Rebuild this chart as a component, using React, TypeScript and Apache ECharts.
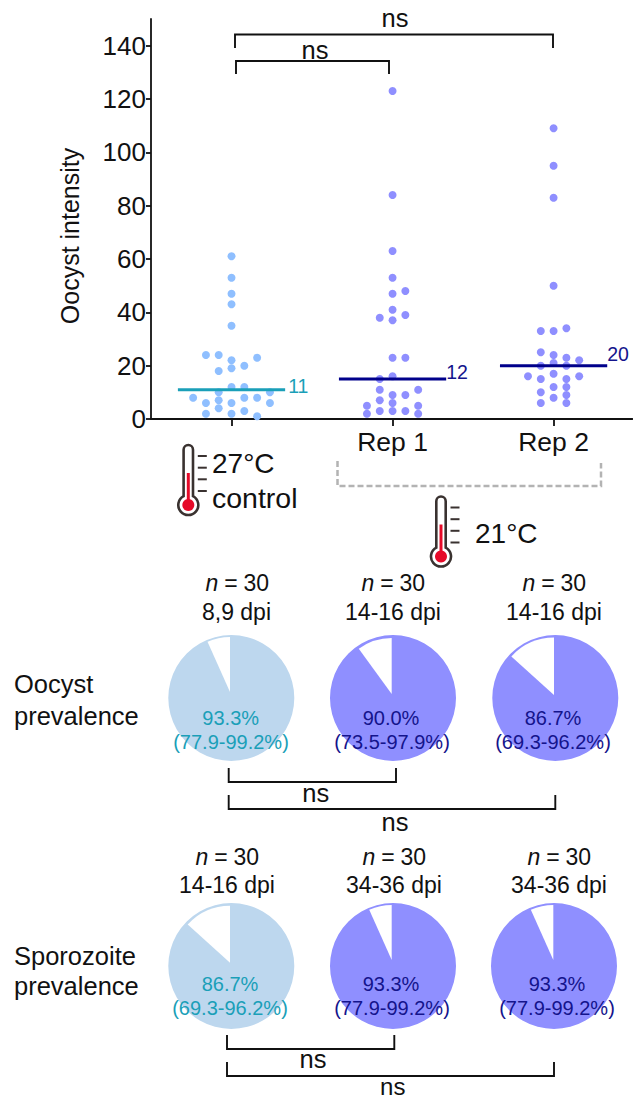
import React, { useEffect, useRef } from "react";
import * as echarts from "echarts";

const FONT = '"Liberation Sans", Arial, sans-serif';

// Oocyst intensity per mosquito: value + swarm column (-3..3) around the group's centre
const controlValues = [61, 53, 47, 43, 35, 22, 19, 12, 6, 2, 24, 6, 2, 24, 18, 10, 7, 4, 20, 12, 8, 3, 23, 8, 1, 8, 10, 6];
const controlColumns = [0, 0, 0, 0, 0, 0, 0, 0, 0, 0, -2, -2, -2, -1, -1, -1, -1, -1, 1, 1, 1, 1, 2, 2, 2, -3, 3, 3];
const rep1Values = [123, 84, 63, 53, 47, 41, 37, 23, 16, 9, 6, 3, 48, 39, 23, 9, 3, 38, 15, 11, 7, 3, 11, 5, 2, 5, 2];
const rep1Columns = [0, 0, 0, 0, 0, 0, 0, 0, 0, 0, 0, 0, 1, 1, 1, 1, 1, -1, -1, -1, -1, -1, 2, 2, 2, -2, -2];
const rep2Values = [109, 95, 83, 50, 33, 24, 21, 17, 12, 8, 33, 25, 20, 15, 10, 6, 34, 23, 20, 15, 12, 9, 6, 22, 16, 16];
const rep2Columns = [0, 0, 0, 0, 0, 0, 0, 0, 0, 0, -1, -1, -1, -1, -1, -1, 1, 1, 1, 1, 1, 1, 1, 2, 2, -2];

const groupPositions = [1, 2, 3];
const tickLabels = ["", "Rep 1", "Rep 2"];
const medians = [11, 15, 20];
const medianLabels = ["11", "12", "20"];

const oocystPrevalence = [93.3, 90.0, 86.7];
const oocystCI = ["(77.9-99.2%)", "(73.5-97.9%)", "(69.3-96.2%)"];
const oocystDpi = ["8,9 dpi", "14-16 dpi", "14-16 dpi"];
const sporozoitePrevalence = [86.7, 93.3, 93.3];
const sporozoiteCI = ["(69.3-96.2%)", "(77.9-99.2%)", "(77.9-99.2%)"];
const sporozoiteDpi = ["14-16 dpi", "34-36 dpi", "34-36 dpi"];

const LIGHT_DOT = "#8fbfff";
const PURPLE = "#8f8fff";
const LIGHT_PIE = "#bdd7ee";
const TEAL = "#1a9fb8";
const NAVY = "#14148c";
const NAVY_LINE = "#00008b";
const COL_STEP = 0.0795;

echarts.graphic.registerShape(
  "thermo",
  echarts.graphic.extendPath("M-4.7 4.7 A4.7 4.7 0 0 1 4.7 4.7 L4.7 51.2 A10 10 0 1 1 -4.7 51.2 Z", {})
);

const text = (t: string, x: number, y: number, size: number, opts: any = {}) => ({
  type: "text",
  z: 20,
  x,
  y,
  rotation: opts.rotation || 0,
  style: {
    text: t,
    fontFamily: FONT,
    fontSize: size,
    fill: opts.fill || "#111",
    fontStyle: opts.italic ? "italic" : "normal",
    align: opts.align || "center",
    verticalAlign: "middle",
  },
});

// "n = 30" with an italic n, spaced as a word-processor would
const nLabel = (x: number, y: number) => [
  text("n", x - 31.5, y, 23, { italic: true, align: "left" }),
  text("=", x - 6, y, 23),
  text("30", x + 32, y, 23, { align: "right" }),
];

const bracket = (pts: number[][]) => ({
  type: "polyline",
  z: 20,
  shape: { points: pts },
  style: { stroke: "#111", lineWidth: 1.9, fill: "none" },
});

const thermometer = (x: number, y: number) => [
  { type: "thermo", z: 20, x, y, style: { stroke: "#3a3230", lineWidth: 2.6, fill: "none" } },
  { type: "rect", z: 20, shape: { x: x - 1.5, y: y + 28, width: 3, height: 28 }, style: { fill: "#e60a28" } },
  { type: "circle", z: 20, shape: { cx: x, cy: y + 60, r: 6 }, style: { fill: "#e60a28" } },
  ...[11, 22.7, 34.3, 46].map((d) => ({
    type: "line",
    z: 20,
    shape: { x1: x + 9.5, y1: y + d, x2: x + 18.5, y2: y + d },
    style: { stroke: "#3a3230", lineWidth: 2 },
  })),
];

const swarm = (name: string, values: number[], cols: number[], group: number, color: string) => ({
  name,
  type: "scatter",
  symbol: "circle",
  symbolSize: 8,
  silent: true,
  z: 3,
  itemStyle: { color, opacity: 1 },
  data: values.map((v, i) => [group + cols[i] * COL_STEP, v]),
});

const medianLine = (i: number, color: string, dist: number, off: number) => ({
  type: "line",
  symbol: "none",
  silent: true,
  z: 5,
  lineStyle: { color, width: 3 },
  endLabel: {
    show: true,
    distance: dist,
    offset: [0, off],
    formatter: medianLabels[i],
    fontFamily: FONT,
    fontSize: 19.5,
    color: i === 0 ? TEAL : NAVY,
  },
  data: [
    [groupPositions[i] - 0.333, medians[i]],
    [groupPositions[i] + 0.333, medians[i]],
  ],
});

const pie = (value: number, cx: number, cy: number, color: string, ax: number, ay: number, r: number) => [
  {
    type: "pie",
    silent: true,
    animation: false,
    center: [cx, cy],
    radius: [0, 63],
    label: { show: false },
    labelLine: { show: false },
    data: [{ value: 100, itemStyle: { color } }],
  },
  {
    type: "pie",
    silent: true,
    animation: false,
    center: [ax, ay],
    radius: [0, r],
    startAngle: 90,
    clockwise: true,
    label: { show: false },
    labelLine: { show: false },
    data: [
      { value, itemStyle: { color: "rgba(0,0,0,0)" } },
      { value: 100 - value, itemStyle: { color: "#fff" } },
    ],
  },
];

const pieCentersX = [231.3, 393, 555.3];
const pieColors = [LIGHT_PIE, PURPLE, PURPLE];
const textColors = [TEAL, NAVY, NAVY];
const topCiX = [231, 392, 553];
const topPctX = [230.7, 391, 553];
const bottomCiX = [230, 392, 557];
const bottomPctX = [230, 391, 557];
const topApex = [[230, 692, 55], [391.7, 694, 56], [554, 695, 57.5]];
const bottomApex = [[230, 962.7, 57], [391.7, 960, 55], [553.3, 960, 55]];

export default function App() {
  const ref = useRef<HTMLDivElement>(null);
  useEffect(() => {
    const chart = echarts.init(ref.current!, undefined, { renderer: "svg", width: 633, height: 1099 });
    const graphics: any[] = [
      text("Oocyst intensity", 70, 236, 25, { rotation: Math.PI / 2 }),
      // significance brackets, upper panel
      bracket([[235, 48], [235, 34.5], [553, 34.5], [553, 48]]),
      bracket([[236, 74], [236, 61], [389, 61], [389, 74]]),
      text("ns", 395, 18, 25.5),
      text("ns", 315, 50, 25.5),
      // temperature annotations
      ...thermometer(188.3, 445),
      ...thermometer(441, 496.5),
      text("27°C", 212, 463, 28, { align: "left" }),
      text("control", 212, 498, 28.5, { align: "left" }),
      text("21°C", 475, 533, 28, { align: "left" }),
      {
        type: "polyline",
        z: 20,
        shape: { points: [[337.5, 461], [337.5, 486], [601, 486], [601, 463]] },
        style: { stroke: "#b3b3b3", lineWidth: 2.5, lineDash: [6, 3], fill: "none" },
      },
      // row labels
      text("Oocyst", 14, 684, 25.5, { align: "left" }),
      text("prevalence", 14, 716, 25.5, { align: "left" }),
      text("Sporozoite", 14, 956, 25.5, { align: "left" }),
      text("prevalence", 14, 986, 25.5, { align: "left" }),
      // lower-panel brackets
      bracket([[228.7, 768], [228.7, 782], [396, 782], [396, 768]]),
      bracket([[228.7, 795], [228.7, 809], [555.3, 809], [555.3, 795]]),
      text("ns", 315.7, 793, 25.5),
      text("ns", 395, 822, 25.5),
      bracket([[227, 1035], [227, 1049], [394.3, 1049], [394.3, 1035]]),
      bracket([[227, 1062], [227, 1076], [554, 1076], [554, 1062]]),
      text("ns", 313, 1059, 25.5),
      text("ns", 392.7, 1086, 24),
    ];
    [237, 393, 554].forEach((x, i) => {
      graphics.push(...nLabel(x, 583));
      graphics.push(text(oocystDpi[i], i === 0 ? 236.5 : x, 611.5, 23));
      graphics.push(text(oocystPrevalence[i].toFixed(1) + "%", topPctX[i], 717.5, 20, { fill: textColors[i] }));
      graphics.push(text(oocystCI[i], topCiX[i], 742, 20, { fill: textColors[i] }));
    });
    [227, 394, 559].forEach((x, i) => {
      graphics.push(...nLabel(x, 857));
      graphics.push(text(sporozoiteDpi[i], x, 885, 23));
      graphics.push(text(sporozoitePrevalence[i].toFixed(1) + "%", bottomPctX[i], 984, 20, { fill: textColors[i] }));
      graphics.push(text(sporozoiteCI[i], bottomCiX[i], 1008, 20, { fill: textColors[i] }));
    });

    chart.setOption({
      animation: false,
      grid: { left: 151, top: 19, width: 481.5, height: 400, containLabel: false },
      xAxis: {
        type: "value",
        min: 0.5,
        max: 3.49,
        splitLine: { show: false },
        axisLine: { show: true, onZero: false, lineStyle: { color: "#111", width: 1.8 } },
        axisTick: { show: true, customValues: groupPositions, length: 7, lineStyle: { color: "#111", width: 1.8 } },
        axisLabel: {
          show: true,
          customValues: groupPositions,
          formatter: (v: number) => tickLabels[groupPositions.indexOf(v)] ?? "",
          fontFamily: FONT,
          fontSize: 26.5,
          color: "#111",
          margin: 9,
        },
      },
      yAxis: {
        type: "value",
        min: 0,
        max: 150,
        interval: 20,
        splitLine: { show: false },
        axisLine: { show: true, lineStyle: { color: "#111", width: 1.8 } },
        axisTick: { show: true, length: 5, lineStyle: { color: "#111", width: 1.8 } },
        axisLabel: {
          fontFamily: FONT,
          fontSize: 26,
          color: "#111",
          margin: 5,
          showMaxLabel: false,
        },
      },
      series: [
        swarm("Control", controlValues, controlColumns, groupPositions[0], LIGHT_DOT),
        swarm("Rep 1", rep1Values, rep1Columns, groupPositions[1], PURPLE),
        swarm("Rep 2", rep2Values, rep2Columns, groupPositions[2], PURPLE),
        medianLine(0, TEAL, 3, -4),
        medianLine(1, NAVY_LINE, 0, -7),
        medianLine(2, NAVY_LINE, 0, -12),
        ...oocystPrevalence.flatMap((v, i) =>
          pie(v, pieCentersX[i], 698, pieColors[i], topApex[i][0], topApex[i][1], topApex[i][2])
        ),
        ...sporozoitePrevalence.flatMap((v, i) =>
          pie(v, pieCentersX[i] - (i === 2 ? 1.3 : 0), 966, pieColors[i], bottomApex[i][0], bottomApex[i][1], bottomApex[i][2])
        ),
      ],
      graphic: graphics,
    });
    return () => chart.dispose();
  }, []);
  return <div ref={ref} style={{ position: "absolute", left: 0, top: 0, width: 633, height: 1099 }} />;
}
